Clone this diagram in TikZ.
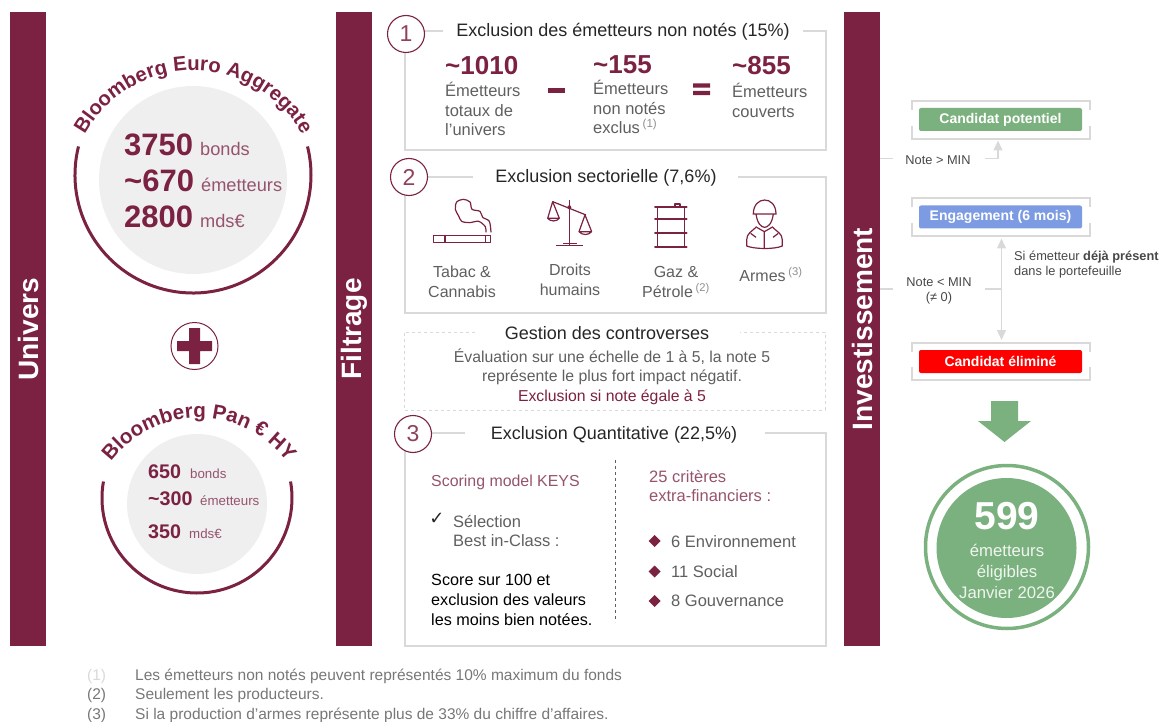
\documentclass[tikz,border=0pt]{standalone}
\usepackage{fontspec}
\setmainfont{Liberation Sans}
\newfontfamily\symbfont{DejaVu Sans}
\usetikzlibrary{arrows.meta,decorations.text,calc}
\definecolor{burg}{HTML}{7B2142}
\definecolor{burgsoft}{HTML}{96536D}
\definecolor{panelgrey}{HTML}{D9D9D9}
\definecolor{softgrey}{HTML}{EFEFEF}
\definecolor{inkgrey}{HTML}{5F5F5F}
\definecolor{titleink}{HTML}{262626}
\definecolor{leaf}{HTML}{7BB17E}
\definecolor{periw}{HTML}{7D9BE3}
\newcommand{\fsz}[2]{\fontsize{#1}{#2}\selectfont}
\newcommand{\note}[1]{\,{\color{inkgrey!70}\textsuperscript{(#1)}}}
\tikzset{
  bar/.style={fill=burg,minimum width=36pt,minimum height=634pt,inner sep=0},
  bartext/.style={rotate=90,text=white,font=\fsz{28}{28}\bfseries,inner sep=0},
  panel/.style={draw=panelgrey,line width=1.4pt},
  numcircle/.style={circle,draw=burg,fill=white,line width=1.1pt,minimum size=37pt,inner sep=0,text=burg!85,font=\fsz{23}{23}},
  paneltitle/.style={text=titleink,font=\fsz{18}{18},inner sep=0},
  bignum/.style={anchor=base west,text=burg,font=\fsz{26}{26}\bfseries,inner sep=0},
  body/.style={anchor=center,text=inkgrey,font=\fsz{16.5}{19.7},align=left,inner sep=0},
  bodyc/.style={text=inkgrey,font=\fsz{16}{19.7},align=center,inner sep=0},
  icon/.style={draw=burg,line width=1.2pt,line join=round},
  pill/.style={rounded corners=2pt,minimum width=163pt,minimum height=23pt,inner sep=0,text=white,font=\fsz{14}{14}\bfseries},
  rule/.style={draw=panelgrey,line width=1.3pt},
  ruletext/.style={text=titleink!85,font=\fsz{12.8}{15},inner sep=0},
  foot/.style={anchor=base west,text=inkgrey!85,font=\fsz{15.5}{15},inner sep=0}
}
\begin{document}
\begin{tikzpicture}[x=1pt,y=-1pt]
  \useasboundingbox (0,0) rectangle (1162,722);

  %bars
  \node[bar] (univers) at (28,329) {};
  \node[bar] (filtrage) at (354,329) {};
  \node[bar] (invest) at (862,329) {};
  \node[bartext] at (univers.center) {Univers};
  \node[bartext] at (filtrage.center) {Filtrage};
  \node[bartext] at (invest.center) {Investissement};

  %first universe
  \fill[softgrey] (193,180) circle (94);
  \begin{scope}[y=1pt]
    \draw[burg,line width=3pt] ([shift={(166:118)}]193,-175) arc[start angle=166,end angle=374,radius=118];
    \path[decorate,decoration={text along path,text align=center,
        text={|\fsz{20.3}{22}\bfseries\color{burg}|Bloomberg Euro Aggregate}}]
      ([shift={(156:124)}]193.5,-194.5) arc[start angle=156,end angle=24,radius=124];
  \end{scope}
  \node[bignum,font=\fsz{31}{31}\bfseries] (euroa) at (124,156) {3750};
  \node[bignum,font=\fsz{31}{31}\bfseries] (eurob) at (124,192) {\textasciitilde 670};
  \node[bignum,font=\fsz{31}{31}\bfseries] (euroc) at (124,228) {2800};
  \node[bignum,text=burgsoft,font=\fsz{18.2}{18}] at (200,156) {bonds};
  \node[bignum,text=burgsoft,font=\fsz{18.2}{18}] at (201,192) {émetteurs};
  \node[bignum,text=burgsoft,font=\fsz{18.2}{18}] at (200,228) {mds€};

  %plus
  \node[circle,draw=burg,line width=1pt,minimum size=47pt,inner sep=0] (plus) at (194.5,346) {};
  \fill[burg] (177,341) rectangle (212,351) (189,328) rectangle (200,364);

  %second universe
  \fill[softgrey] (197,504) circle (70);
  \begin{scope}[y=1pt]
    \draw[burg,line width=3pt] ([shift={(170:95)}]197,-498) arc[start angle=170,end angle=370,radius=95];
    \path[decorate,decoration={text along path,text align=center,
        text={|\fsz{20.6}{23}\bfseries\color{burg}|Bloomberg Pan € HY}}]
      ([shift={(152:110)}]199,-528) arc[start angle=152,end angle=28,radius=110];
  \end{scope}
  \node[bignum,font=\fsz{19.7}{20}\bfseries] at (148,478) {650};
  \node[bignum,font=\fsz{19.7}{20}\bfseries] at (148,505) {\textasciitilde 300};
  \node[bignum,font=\fsz{19.7}{20}\bfseries] at (148,538) {350};
  \node[bignum,text=burgsoft,font=\fsz{13.3}{14}] at (190,478) {bonds};
  \node[bignum,text=burgsoft,font=\fsz{13.3}{14}] at (200,505) {émetteurs};
  \node[bignum,text=burgsoft,font=\fsz{13.3}{14}] at (189,538) {mds€};

  %panel 1
  \draw[panel] (443,31) -- (405,31) -- (405,150) -- (826,150) -- (826,31) -- (803,31);
  \node[numcircle] (un) at (406,34) {1};
  \node[paneltitle] (untitle) at (623,31.5) {Exclusion des émetteurs non notés (15\%)};
  \node[bignum] at (445,75) {\textasciitilde 1010};
  \node[bignum] at (593,74) {\textasciitilde 155};
  \node[bignum] at (732,75) {\textasciitilde 855};
  \node[body,anchor=west] (totaux) at (445,109) {Émetteurs\\totaux de\\l’univers};
  \node[body,anchor=west] (nonnotes) at (593,107) {Émetteurs\\non notés\\exclus\note{1}};
  \node[body,anchor=west] (couverts) at (732,100.5) {Émetteurs\\couverts};
  \fill[burg] (548,88.5) rectangle (565,92.7);
  \fill[burg] (693,83.5) rectangle (710,87.7) (693,91) rectangle (710,95.2);

  %panel 2
  \draw[panel] (473,177) -- (405,177) -- (405,313) -- (826,313) -- (826,177) -- (738,177);
  \node[numcircle] (deux) at (409,177) {2};
  \node[paneltitle] (deuxtitle) at (606,177.5) {Exclusion sectorielle (7,6\%)};
  \node[bodyc] (tabac) at (462,282) {Tabac \&\\Cannabis};
  \node[bodyc] (droits) at (570,280) {Droits\\humains};
  \node[bodyc] (gaz) at (676,282) {Gaz \&\\Pétrole\note{2}};
  \node[bodyc] (armes) at (771,274.5) {Armes\note{3}};

  %icons, drawn at three times the size
  \begin{scope}[shift={(380,0)},scale=1/3]
    %cigarette
    \draw[icon] (160,707) rectangle (332,728) (195,707) -- (195,728) (316,707) -- (316,728);
    \draw[icon] plot[smooth] coordinates {(318,697) (316,680) (296,664) (268,668) (245,664) (236,648) (226,628) (230,606) (250,598) (270,606) (276,628) (300,634) (308,652) (328,664) (333,697)};
    %scales
    \draw[icon] (568,600) -- (568,735) (528,737) -- (610,737) (548,730) -- (590,730);
    \draw[icon] (518,605) -- (618,645);
    \draw[icon] (518,605) -- (503,655) -- (538,655) -- cycle (503,655) to[bend right=50] (538,655);
    \draw[icon] (615,645) -- (597,695) -- (635,695) -- cycle (597,695) to[bend right=50] (635,695);
    \fill[burg] (568,622) circle (6);
    %barrel
    \draw[icon] (832,620) -- (832,740) (914,620) -- (914,740);
    \foreach \yh in {620,658,700,740}
      \draw[icon,line width=2pt,line cap=round] (825,\yh) -- (920,\yh);
    \draw[icon] (885,620) -- (885,612) -- (900,612) -- (900,620);
    %soldier
    \draw[icon] (1118,642) -- (1190,642) (1120,642) .. controls (1120,586) and (1188,586) .. (1188,642);
    \draw[icon] (1128,642) .. controls (1132,672) and (1145,682) .. (1154,682) .. controls (1163,682) and (1176,672) .. (1180,642);
    \draw[icon] (1130,680) .. controls (1115,695) and (1100,700) .. (1100,720) -- (1100,738) .. controls (1125,748) and (1185,748) .. (1207,738) -- (1207,720) .. controls (1207,700) and (1190,695) .. (1176,680);
    \draw[icon] (1153,695) -- (1153,745) (1130,682) -- (1153,695) -- (1176,682);
    \draw[icon] (1112,700) -- (1128,712) (1195,700) -- (1179,712);
  \end{scope}

  %controversies
  \draw[panel,dashed,line width=1pt] (475,332) -- (404,332) -- (404,410) -- (825,410) -- (825,332) -- (740,332);
  \node[paneltitle] (gestion) at (607,333) {Gestion des controverses};
  \node[bodyc,font=\fsz{15.8}{19.7}] (echelle) at (612,376.5) {Évaluation sur une échelle de 1 à 5, la note 5\\représente le plus fort impact négatif.\\{\color{burg}Exclusion si note égale à 5}};

  %panel 3
  \draw[panel] (465,433) -- (405,433) -- (405,646) -- (826,646) -- (826,433) -- (765,433);
  \node[numcircle] (trois) at (413,434) {3};
  \node[paneltitle] (troistitle) at (614,434.5) {Exclusion Quantitative (22,5\%)};
  \draw[inkgrey,dashed,line width=0.8pt] (615.5,460) -- (615.5,622);
  \node[body,anchor=west,text=burgsoft,font=\fsz{15.9}{19.7}] (keys) at (431,482) {Scoring model KEYS};
  \node[inner sep=0,text=titleink,font=\symbfont\fsz{18}{18}] (coche) at (437,519) {✓};
  \node[body,anchor=west] (selection) at (453,531) {Sélection\\Best in-Class :};
  \node[body,anchor=west,text=black,font=\fsz{16.2}{19.7}] (score) at (431,600) {Score sur 100 et\\exclusion des valeurs\\les moins bien notées.};
  \node[body,anchor=west,text=burgsoft] (criteres) at (649,486) {25 critères\\extra-financiers :};
  \node[body,anchor=west] (envi) at (671,542) {6 Environnement};
  \node[body,anchor=west] (soc) at (671,571.5) {11 Social};
  \node[body,anchor=west] (gouv) at (671,601) {8 Gouvernance};
  \foreach \yd in {541,571.5,601}
    \fill[burg] (648.5,\yd) -- (654.5,\yd-6) -- (660.5,\yd) -- (654.5,\yd+6) -- cycle;

  %investment rules
  \foreach \ya/\yb in {101/139,198/236,343/380}{
    \draw[panel] (912,\ya+9) -- (912,\ya) -- (1090,\ya) -- (1090,\ya+9);
    \draw[panel] (912,\yb-13) -- (912,\yb) -- (1090,\yb) -- (1090,\yb-13);
  }
  \node[pill,fill=leaf] (potentiel) at (1000.5,119.5) {Candidat potentiel};
  \node[pill,fill=periw] (engagement) at (1000.5,217) {Engagement (6 mois)};
  \node[pill,fill=red] (elimine) at (1000.5,361.5) {Candidat éliminé};

  \node[ruletext] (notehaut) at (938,160) {Note > MIN};
  \node[ruletext,align=center] (notebas) at (939,290.5) {Note < MIN\\(≠ 0)};
  \node[ruletext,anchor=west,align=left] (present) at (1014,264.5) {Si émetteur \textbf{déjà présent}\\dans le portefeuille};

  \coordinate (hautbar) at (880,158.5);
  \coordinate (basbar) at (880,289);
  \coordinate (hauttip) at (998,140.5);
  \coordinate (engtip) at (1001.5,238.5);
  \coordinate (elitip) at (1001.5,340);
  \draw[rule] (hautbar) -- (893,158.5) (985,158.5) -- (998,158.5);
  \draw[rule,-{Triangle[width=9pt,length=10pt]}] (998,159) -- (hauttip);
  \draw[rule] (basbar) -- (893,289) (985,289) -- (1001.5,289);
  \draw[rule,{Triangle[width=9pt,length=10pt]}-{Triangle[width=9pt,length=10pt]}] (engtip) -- (elitip);

  %result
  \fill[leaf] (991,401) -- (1018,401) -- (1018,421) -- (1031,421) -- (1004.5,442) -- (978,421) -- (991,421) -- cycle;
  \node[circle,draw=leaf,line width=3.5pt,minimum size=163pt,inner sep=0] (anneau) at (1007,547) {};
  \node[circle,fill=leaf,minimum size=140pt,inner sep=0] (disque) at (1006.5,548) {};
  \node[text=white,font=\fsz{39}{39}\bfseries,inner sep=0] (total) at (1007,516.5) {599};
  \node[text=white!88!leaf,font=\fsz{16.7}{21},align=center,inner sep=0] (eligibles) at (1007,571) {émetteurs\\éligibles\\Janvier 2026};

  %notes
  \node[foot,text=panelgrey] at (87,680) {(1)};
  \node[foot] at (87,699) {(2)};
  \node[foot] at (87,719) {(3)};
  \node[foot] at (135,680) {Les émetteurs non notés peuvent représentés 10\% maximum du fonds};
  \node[foot] at (135,699) {Seulement les producteurs.};
  \node[foot] at (135,719) {Si la production d’armes représente plus de 33\% du chiffre d’affaires.};
\end{tikzpicture}
\end{document}
